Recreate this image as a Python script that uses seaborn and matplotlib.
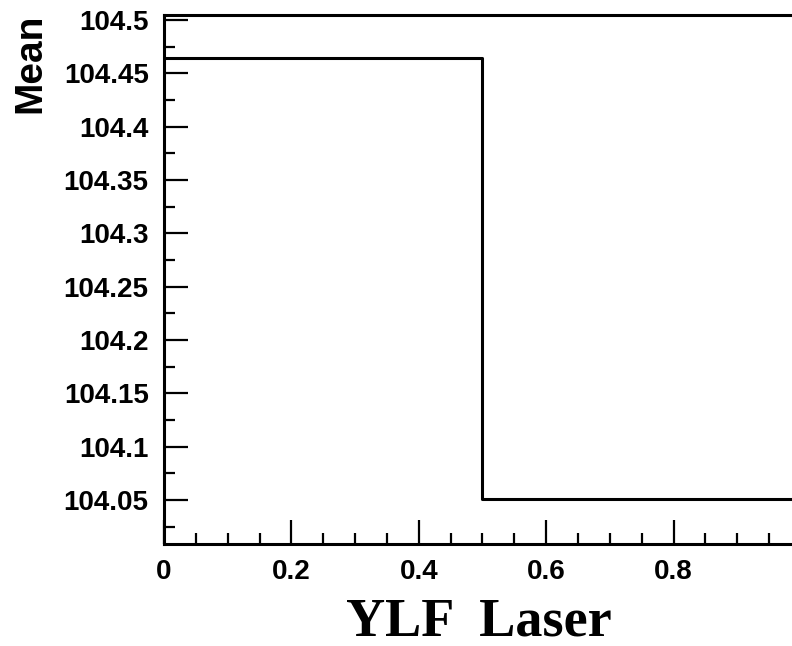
"""
ROOT-style step histogram: mean value per YLF laser state.
"""
import matplotlib

matplotlib.use("Agg")
import matplotlib.pyplot as plt
import seaborn as sns
from matplotlib.ticker import MultipleLocator, FuncFormatter

sns.set_theme(style="ticks")
plt.rcParams["font.family"] = ["Liberation Sans", "DejaVu Sans"]
plt.rcParams["text.color"] = "black"
plt.rcParams["xtick.color"] = "black"
plt.rcParams["ytick.color"] = "black"

# data
bin_edges = [0.0, 0.5, 1.0]
bin_centers = [0.25, 0.75]
bin_means = [104.464, 104.0506]
x_range = (0.0, 1.0)
y_range = (104.0087, 104.5047)

fig = plt.figure(figsize=(7.92, 6.46), dpi=100)
ax = fig.add_axes([164 / 792, 1 - 544 / 646, 637 / 792, 529 / 646])

sns.histplot(x=bin_centers, weights=bin_means, bins=bin_edges,
             element="step", fill=False, color="black", linewidth=2.2, ax=ax)

ax.set_xlim(*x_range)
ax.set_ylim(*y_range)

for side in ["left", "bottom", "top", "right"]:
    ax.spines[side].set_linewidth(2.2)
    ax.spines[side].set_color("black")

ax.xaxis.set_major_locator(MultipleLocator(0.2))
ax.xaxis.set_minor_locator(MultipleLocator(0.05))
ax.yaxis.set_major_locator(MultipleLocator(0.05))
ax.yaxis.set_minor_locator(MultipleLocator(0.025))
ax.yaxis.set_major_formatter(FuncFormatter(lambda v, p: f"{v:g}"))
# last label (1) falls outside the canvas in the original, drop it
ax.xaxis.set_major_formatter(FuncFormatter(lambda v, p: f"{v:g}" if v < 0.99 else ""))

ax.tick_params(axis="both", which="both", direction="in", color="black",
               labelcolor="black", top=False, right=False)
ax.tick_params(axis="both", which="major", length=17, width=1.6,
               labelsize=20, pad=11)
ax.tick_params(axis="both", which="minor", length=8, width=1.6)
for lab in ax.get_xticklabels() + ax.get_yticklabels():
    lab.set_fontweight("bold")

ax.set_xlabel("")
ax.set_ylabel("")
fig.text(30 / 792, 1 - 14 / 646, "Mean", rotation=90, ha="center", va="top",
         fontsize=28, fontweight="bold", color="black")
fig.text(479 / 792, 1 - 635 / 646, "YLF  Laser", ha="center", va="baseline",
         fontsize=39, fontweight="bold", color="black",
         family=["Liberation Serif", "DejaVu Serif"])

plt.savefig("out.png", dpi=100)
plt.close()
